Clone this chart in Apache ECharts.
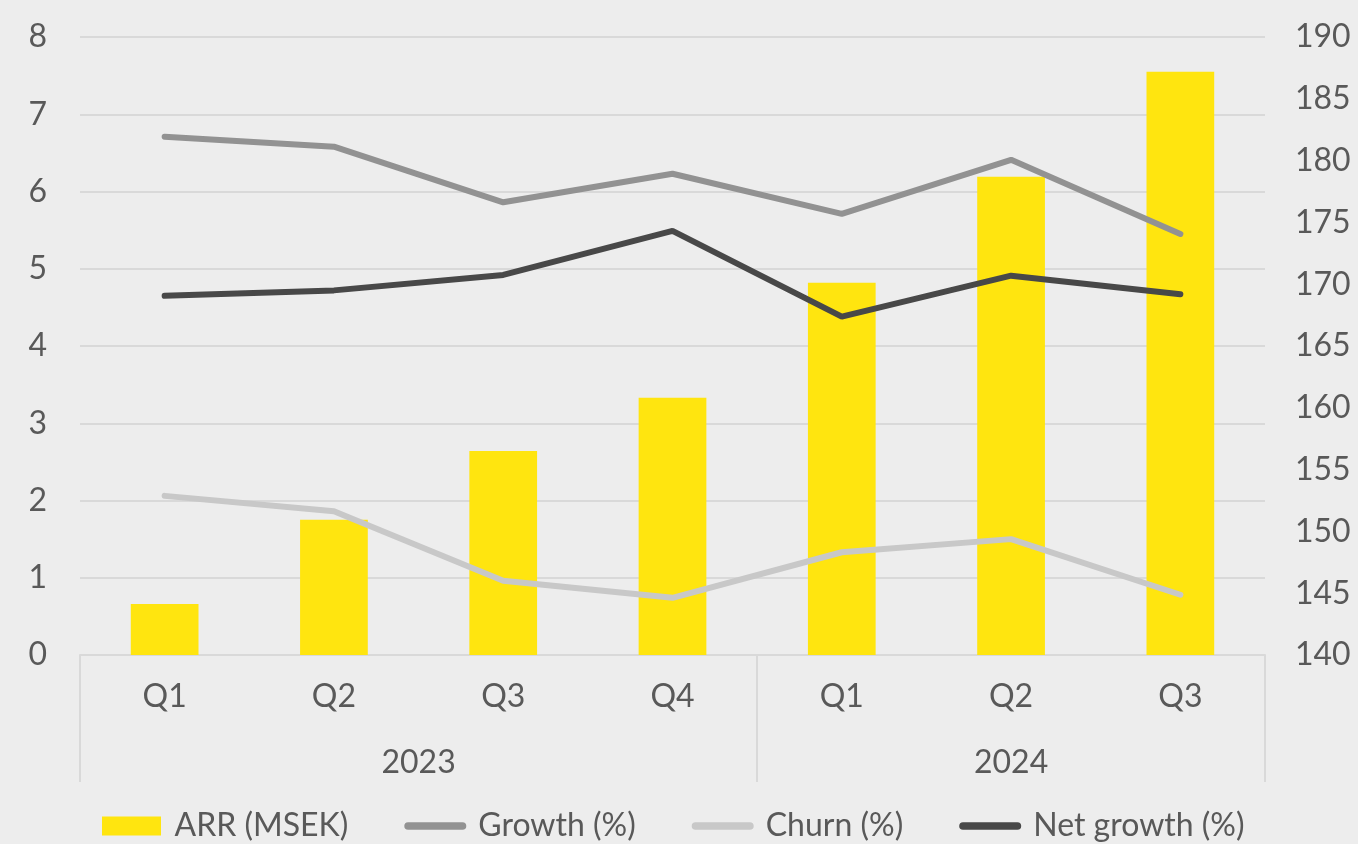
<!DOCTYPE html>
<html lang="en">
<head>
    <meta charset="UTF-8">
    <title>ARR</title>
    <script type="text/javascript" src="https://cdn.jsdelivr.net/npm/echarts@6/dist/echarts.min.js"></script>
    <style>
        html, body { margin: 0; padding: 0; background: #ededed; }
    </style>
</head>
<body>
<div id="main" style="width: 1358px;height:844px;"></div>

<script type="text/javascript">
    // data
    var quarters = ['Q1', 'Q2', 'Q3', 'Q4', 'Q1', 'Q2', 'Q3'];
    var years = ['2023', '2024'];
    var seriesNames = ['ARR (MSEK)', 'Growth (%)', 'Churn (%)', 'Net growth (%)'];
    var arr = [0.66, 1.75, 2.64, 3.33, 4.82, 6.19, 7.55];
    var growth = [6.71, 6.58, 5.86, 6.23, 5.71, 6.41, 5.45];
    var churn = [2.06, 1.86, 0.96, 0.74, 1.33, 1.50, 0.78];
    var netGrowth = [4.65, 4.72, 4.92, 5.49, 4.38, 4.91, 4.67];

    var textColor = '#595959';
    var gridColor = '#d9d9d9';
    var font = 'Lato';

    // legend icons
    var rectIcon = 'path://M0,0 H59 V19 H0 Z';
    var lineIcon = 'path://M4,0 H61 A4,4 0 0 1 61,8 H4 A4,4 0 0 1 4,0 Z';

    var myChart = echarts.init(document.getElementById('main'));

    var option = {
        backgroundColor: '#ededed',
        textStyle: { fontFamily: font },
        grid: { left: 80, right: 93, top: 37, bottom: 189 },
        legend: {
            top: 810,
            left: 102,
            padding: 0,
            itemWidth: 62,
            itemHeight: 19,
            itemGap: 56,
            textStyle: { color: textColor, fontSize: 32, fontFamily: font, padding: [0, 0, 0, 7] },
            data: [
                { name: seriesNames[0], icon: rectIcon },
                { name: seriesNames[1], icon: lineIcon },
                { name: seriesNames[2], icon: lineIcon },
                { name: seriesNames[3], icon: lineIcon }
            ]
        },
        xAxis: [{
            type: 'category',
            data: quarters,
            axisLine: { lineStyle: { color: gridColor, width: 2 } },
            axisTick: { show: false },
            axisLabel: { color: textColor, fontSize: 32, margin: 26 }
        }, {
            // year grouping row with separators
            type: 'value',
            min: 0,
            max: 7,
            position: 'bottom',
            axisLine: { show: false },
            splitLine: { show: false },
            axisTick: {
                show: true,
                customValues: [0, 4, 7],
                length: 127,
                lineStyle: { color: gridColor, width: 2 }
            },
            axisLabel: {
                color: textColor,
                fontSize: 32,
                margin: 92,
                customValues: [2, 5.5],
                formatter: function (v) { return v < 4 ? years[0] : years[1]; }
            }
        }],
        yAxis: [{
            type: 'value',
            min: 0,
            max: 8,
            interval: 1,
            axisLine: { show: false },
            axisTick: { show: false },
            axisLabel: { color: textColor, fontSize: 32, margin: 33 },
            splitLine: { lineStyle: { color: gridColor, width: 2 } }
        }, {
            type: 'value',
            min: 140,
            max: 190,
            interval: 5,
            axisLine: { show: false },
            axisTick: { show: false },
            axisLabel: { color: textColor, fontSize: 32, margin: 30 },
            splitLine: { show: false }
        }],
        series: [{
            name: seriesNames[0],
            type: 'bar',
            data: arr,
            barWidth: '40%',
            itemStyle: { color: '#ffe50f' }
        }, {
            name: seriesNames[1],
            type: 'line',
            data: growth,
            symbol: 'none',
            lineStyle: { color: '#929292', width: 6, cap: 'round' },
            itemStyle: { color: '#929292' }
        }, {
            name: seriesNames[2],
            type: 'line',
            data: churn,
            symbol: 'none',
            lineStyle: { color: '#c8c8c8', width: 6, cap: 'round' },
            itemStyle: { color: '#c8c8c8' }
        }, {
            name: seriesNames[3],
            type: 'line',
            data: netGrowth,
            symbol: 'none',
            lineStyle: { color: '#484848', width: 6, cap: 'round' },
            itemStyle: { color: '#484848' }
        }]
    };

    myChart.setOption(option);
</script>
</body>
</html>
